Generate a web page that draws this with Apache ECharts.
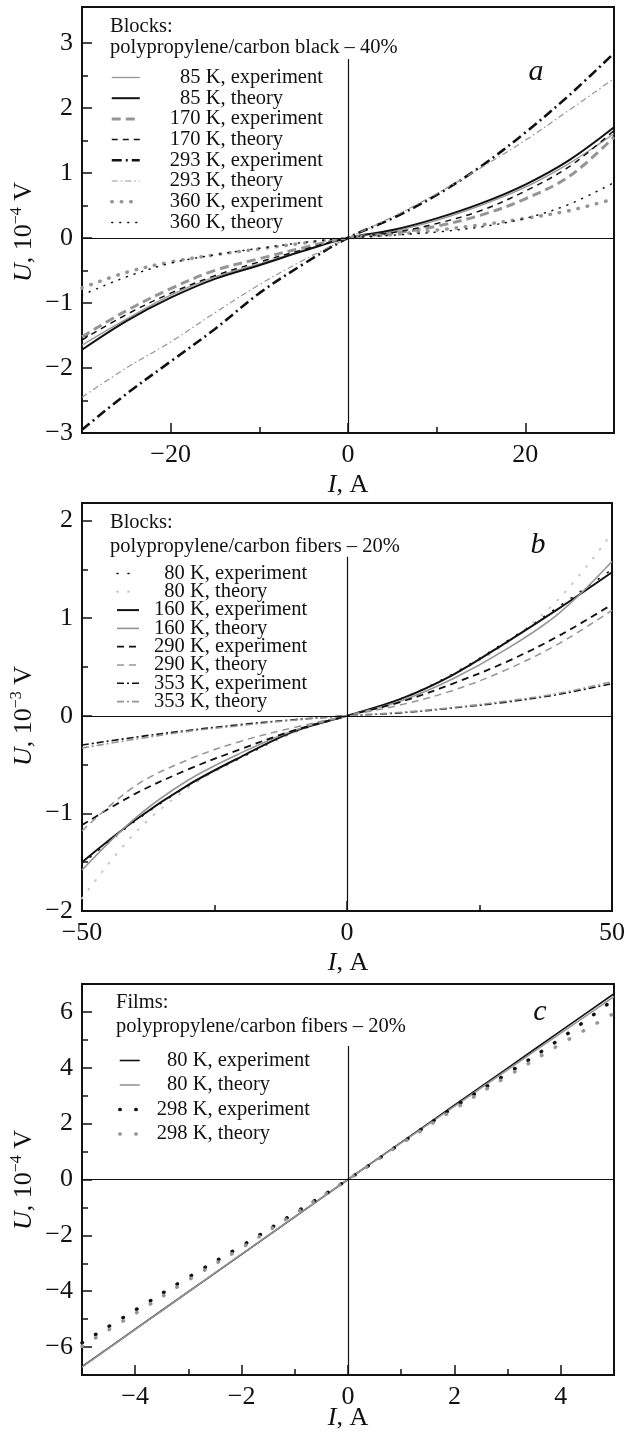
<!DOCTYPE html>
<html>
<head>
<meta charset="utf-8">
<script src="https://cdn.jsdelivr.net/npm/echarts@6/dist/echarts.min.js"></script>
<style>
  html, body { margin: 0; padding: 0; background: #fff; }
  #chart { width: 628px; height: 1439px; }
</style>
</head>
<body>
<div id="chart"></div>
<script>
// I-U curves, three panels (a, b, c)

var serif = '"Liberation Serif", "DejaVu Serif", serif';

// Panel a: blocks, polypropylene/carbon black 40%  (U in 1e-4 V)
var aCurrent   = [-30, -25, -20, -15, -10, -5, 0, 5, 10, 15, 20, 25, 30];
var a85Exp     = [-1.65, -1.25, -0.88, -0.6, -0.4, -0.19, 0, 0.1, 0.27, 0.5, 0.78, 1.15, 1.6];
var a85Theory  = [-1.72, -1.28, -0.92, -0.63, -0.42, -0.2, 0, 0.12, 0.3, 0.53, 0.82, 1.2, 1.7];
var a170Exp    = [-1.52, -1.12, -0.78, -0.5, -0.32, -0.15, 0, 0.07, 0.18, 0.35, 0.6, 0.95, 1.55];
var a170Theory = [-1.57, -1.18, -0.85, -0.58, -0.37, -0.18, 0, 0.08, 0.22, 0.42, 0.72, 1.1, 1.65];
var a293Exp    = [-2.95, -2.4, -1.9, -1.4, -0.85, -0.4, 0, 0.3, 0.66, 1.1, 1.62, 2.2, 2.84];
var a293Theory = [-2.45, -2.0, -1.6, -1.15, -0.72, -0.34, 0, 0.32, 0.68, 1.08, 1.5, 1.97, 2.45];
var a360Exp    = [-0.77, -0.53, -0.37, -0.26, -0.17, -0.08, 0, 0.05, 0.12, 0.2, 0.3, 0.42, 0.6];
var a360Theory = [-0.88, -0.6, -0.39, -0.26, -0.16, -0.07, 0, 0.04, 0.09, 0.17, 0.3, 0.52, 0.85];

// Panel b: blocks, polypropylene/carbon fibers 20%  (U in 1e-3 V)
var bCurrent   = [-50, -40, -30, -20, -10, 0, 10, 20, 30, 40, 50];
var b80Exp     = [-1.52, -1.08, -0.72, -0.43, -0.17, 0, 0.17, 0.43, 0.76, 1.12, 1.5];
var b80Theory  = [-1.87, -1.2, -0.74, -0.42, -0.17, 0, 0.17, 0.42, 0.74, 1.2, 1.87];
var b160Exp    = [-1.5, -1.07, -0.71, -0.42, -0.16, 0, 0.17, 0.42, 0.75, 1.1, 1.47];
var b160Theory = [-1.58, -1.05, -0.66, -0.38, -0.15, 0, 0.15, 0.38, 0.68, 1.05, 1.58];
var b290Exp    = [-1.12, -0.8, -0.55, -0.34, -0.15, 0, 0.14, 0.33, 0.55, 0.82, 1.14];
var b290Theory = [-1.18, -0.72, -0.45, -0.26, -0.12, 0, 0.11, 0.26, 0.47, 0.74, 1.08];
var b353Exp    = [-0.3, -0.22, -0.15, -0.09, -0.04, 0, 0.03, 0.08, 0.14, 0.22, 0.33];
var b353Theory = [-0.33, -0.24, -0.16, -0.1, -0.045, 0, 0.035, 0.085, 0.15, 0.23, 0.35];

// Panel c: films, polypropylene/carbon fibers 20%  (U in 1e-4 V)
var cCurrent   = [-5, -4, -3, -2, -1, 0, 1, 2, 3, 4, 5];
var c80Exp     = [-6.7, -5.36, -4.02, -2.68, -1.34, 0, 1.33, 2.66, 3.99, 5.32, 6.65];
var c80Theory  = [-6.72, -5.37, -4.02, -2.67, -1.33, 0, 1.31, 2.62, 3.93, 5.24, 6.55];
var c298Exp    = [-5.85, -4.68, -3.5, -2.38, -1.2, 0, 1.3, 2.6, 3.8, 5.05, 6.45];
var c298Theory = [-5.97, -4.8, -3.6, -2.45, -1.22, 0, 1.28, 2.52, 3.7, 4.85, 5.95];

// tick positions
var aXMajor = [-20, 0, 20], aXMinor = [-10, 10];
var aYMajor = [-3, -2, -1, 0, 1, 2, 3], aYMinor = [-2.5, -1.5, -0.5, 0.5, 1.5, 2.5];
var bXMajor = [-50, 0, 50], bXMinor = [-25, 25];
var bYMajor = [-2, -1, 0, 1, 2], bYMinor = [-1.5, -0.5, 0.5, 1.5];
var cXMajor = [-4, -2, 0, 2, 4], cXMinor = [-5, -3, -1, 1, 3, 5];
var cYMajor = [-6, -4, -2, 0, 2, 4, 6], cYMinor = [-7, -5, -3, -1, 1, 3, 5, 7];

var black = '#111', gray = '#959595', light = '#c8c8c8';

var panelA = [
  ['85 K, experiment', a85Exp, { color: gray, width: 1.3, type: 'solid' }],
  ['85 K, theory', a85Theory, { color: black, width: 2, type: 'solid' }],
  ['170 K, experiment', a170Exp, { color: gray, width: 3, type: [9, 5] }],
  ['170 K, theory', a170Theory, { color: black, width: 1.5, type: [6, 5] }],
  ['293 K, experiment', a293Exp, { color: black, width: 2.6, type: [10, 4, 2, 4] }],
  ['293 K, theory', a293Theory, { color: gray, width: 1.2, type: [6, 3, 1.5, 3] }],
  ['360 K, experiment', a360Exp, { color: gray, width: 3.5, type: [0.5, 9], cap: 'round' }],
  ['360 K, theory', a360Theory, { color: black, width: 1.5, type: [1, 7], cap: 'round' }]
];
var panelB = [
  ['80 K, experiment', b80Exp, { color: black, width: 1.6, type: [1, 10], cap: 'round' }],
  ['80 K, theory', b80Theory, { color: light, width: 2, type: [1, 10], cap: 'round' }],
  ['160 K, experiment', b160Exp, { color: black, width: 2, type: 'solid' }],
  ['160 K, theory', b160Theory, { color: gray, width: 1.6, type: 'solid' }],
  ['290 K, experiment', b290Exp, { color: black, width: 1.8, type: [7, 5] }],
  ['290 K, theory', b290Theory, { color: gray, width: 1.5, type: [7, 5] }],
  ['353 K, experiment', b353Exp, { color: black, width: 1.6, type: [7, 3, 2, 3] }],
  ['353 K, theory', b353Theory, { color: gray, width: 1.6, type: [7, 3, 2, 3] }]
];
// zero-width space keeps panel c names distinct from panel b
var panelC = [
  ['80 K, experiment\u200b', c80Exp, { color: black, width: 1.6, type: 'solid' }],
  ['80 K, theory\u200b', c80Theory, { color: gray, width: 1.6, type: 'solid' }],
  ['298 K, experiment\u200b', c298Exp, { color: black, width: 3.5, type: [0.5, 15.5], cap: 'round' }],
  ['298 K, theory\u200b', c298Theory, { color: gray, width: 3.5, type: [0.5, 15.5], cap: 'round' }]
];

function fmt(v) {
  if (v === 0) return '0';
  return (v < 0 ? '\u2212' : '') + Math.abs(v);
}

function axes(dim, grid, min, max, major, minor) {
  var base = {
    type: 'value', gridIndex: grid, min: min, max: max,
    position: dim === 'x' ? 'bottom' : 'left',
    axisLine: { show: false, onZero: false }, splitLine: { show: false }
  };
  var main = Object.assign({}, base, {
    axisTick: { inside: true, length: 10, customValues: major, lineStyle: { color: black, width: 1.5 } },
    axisLabel: { customValues: major, formatter: fmt, color: black, fontFamily: serif, fontSize: 26, margin: 9 }
  });
  var sub = Object.assign({}, base, {
    axisTick: { inside: true, length: 6, customValues: minor, lineStyle: { color: black, width: 1.5 } },
    axisLabel: { show: false }
  });
  return [main, sub];
}

var grids = [
  { left: 82, top: 7, width: 532, height: 426 },
  { left: 82, top: 503, width: 532, height: 408 },
  { left: 82, top: 984, width: 532, height: 391 }
].map(function (g) {
  return Object.assign(g, { show: true, borderColor: black, borderWidth: 2, backgroundColor: 'transparent' });
});

var xAxes = [].concat(
  axes('x', 0, -30, 30, aXMajor, aXMinor),
  axes('x', 1, -50, 50, bXMajor, bXMinor),
  axes('x', 2, -5, 5, cXMajor, cXMinor)
);
var yAxes = [].concat(
  axes('y', 0, -3, 3.55, aYMajor, aYMinor),
  axes('y', 1, -2, 2.18, bYMajor, bYMinor),
  axes('y', 2, -7, 7, cYMajor, cYMinor)
);

var zeroStyle = { color: black, width: 1.2, type: 'solid' };
function zeroLines(xMin, xMax, yMin, vTop) {
  return {
    silent: true, symbol: ['none', 'none'], label: { show: false },
    lineStyle: zeroStyle, emphasis: { disabled: true },
    data: [
      [{ coord: [0, vTop] }, { coord: [0, yMin] }],
      [{ coord: [xMin, 0] }, { coord: [xMax, 0] }]
    ]
  };
}

var series = [];
function addPanel(list, xs, axisIdx, marks) {
  list.forEach(function (item, k) {
    var s = {
      name: item[0], type: 'line', xAxisIndex: axisIdx, yAxisIndex: axisIdx,
      data: xs.map(function (x, i) { return [x, item[1][i]]; }),
      symbol: 'none', smooth: 0.35, silent: true,
      lineStyle: item[2], emphasis: { disabled: true }
    };
    if (k === 0) s.markLine = marks;
    series.push(s);
  });
}
addPanel(panelA, aCurrent, 0, zeroLines(-30, 30, -3, 2.75));
addPanel(panelB, bCurrent, 2, zeroLines(-50, 50, -2, 1.63));
addPanel(panelC, cCurrent, 4, zeroLines(-5, 5, -7, 4.78));

var legendFont = 20.5;
function legend(list, left, top, iconW, gap, pad) {
  return {
    orient: 'vertical', left: left, top: top, padding: 0,
    itemWidth: iconW, itemHeight: 10, itemGap: gap, selectedMode: false,
    itemStyle: { opacity: 0 },
    data: list.map(function (item) {
      return { name: item[0], lineStyle: Object.assign({}, item[2]) };
    }),
    formatter: function (name) {
      var n = name.replace('\u200b', '');
      return (/^\d\d /.test(n) ? '  ' : '') + n;
    },
    textStyle: { fontFamily: serif, fontSize: legendFont, color: black, padding: [0, 0, 0, pad] }
  };
}

function txt(x, y, text, size, extra) {
  return {
    type: 'text', x: x, y: y, silent: true,
    style: Object.assign({
      text: text, fill: black, fontFamily: serif, fontSize: size,
      align: 'left', verticalAlign: 'middle'
    }, extra || {})
  };
}

var rich = {
  i: { fontStyle: 'italic', fontFamily: serif, fontSize: 26, fill: black },
  s: { fontFamily: serif, fontSize: 16, fill: black, verticalAlign: 'top', lineHeight: 16 }
};
function yName(x, y, pow) {
  var t = txt(x, y, '{i|U}, 10{s|\u2212' + pow + '} V', 26, { align: 'center', rich: rich, lineHeight: 30 });
  t.rotation = Math.PI / 2;
  return t;
}
function xName(x, y) {
  return txt(x, y, '{i|I}, A', 26, { align: 'center', rich: rich });
}
function letter(x, y, l) {
  return txt(x, y, l, 30, { align: 'center', fontStyle: 'italic' });
}

var graphics = [
  txt(110, 27, 'Blocks:', legendFont),
  txt(110, 48, 'polypropylene/carbon black \u2013 40%', legendFont),
  txt(110, 523, 'Blocks:', legendFont),
  txt(110, 547, 'polypropylene/carbon fibers \u2013 20%', legendFont),
  txt(116, 1003, 'Films:', legendFont),
  txt(116, 1027, 'polypropylene/carbon fibers \u2013 20%', legendFont),
  letter(536, 72, 'a'), letter(538, 545, 'b'), letter(540, 1012, 'c'),
  xName(348, 485), xName(348, 963), xName(348, 1418),
  yName(24, 232, 4), yName(24, 716, 3), yName(24, 1180, 4)
];

var chart = echarts.init(document.getElementById('chart'));
var option = {
  animation: false,
  backgroundColor: '#fff',
  grid: grids,
  xAxis: xAxes,
  yAxis: yAxes,
  legend: [
    legend(panelA, 110, 67, 28, -0.3, 25),
    legend(panelB, 116, 563, 22, -2.7, 10),
    legend(panelC, 118, 1050, 20, 3.5, 12)
  ],
  graphic: graphics,
  series: series
};
chart.setOption(option);
</script>
</body>
</html>
